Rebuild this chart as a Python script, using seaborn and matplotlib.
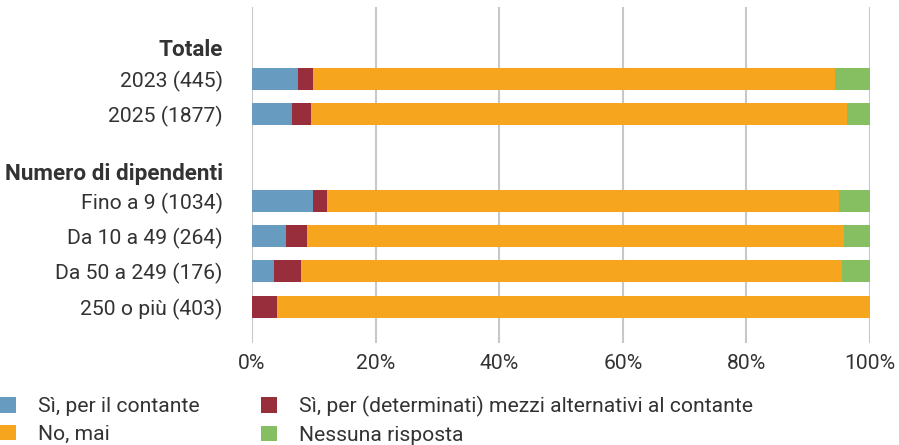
import numpy as np
import pandas as pd
import matplotlib
matplotlib.use("Agg")
import matplotlib.pyplot as plt
from matplotlib.patches import Patch
import seaborn as sns

# dati (percentuali)
categorie = ["2023 (445)", "2025 (1877)", "Fino a 9 (1034)", "Da 10 a 49 (264)",
             "Da 50 a 249 (176)", "250 o più (403)"]
gruppi = ["Totale", "Numero di dipendenti"]
si_contante = [7.4, 6.5, 9.9, 5.5, 3.6, 0.0]
si_alternativi = [2.5, 3.0, 2.2, 3.4, 4.3, 4.0]
no_mai = [84.4, 86.8, 82.9, 86.9, 87.6, 96.0]
nessuna = [5.7, 3.7, 5.0, 4.2, 4.5, 0.0]
serie = ["Sì, per il contante", "Sì, per (determinati) mezzi alternativi al contante",
         "No, mai", "Nessuna risposta"]
x_ticks = [0, 20, 40, 60, 80, 100]

# layout delle righe
pos_righe = [0, 1, 3.45, 4.45, 5.45, 6.45]
pos_gruppi = [-0.88, 2.63]

colori = {
    "Sì, per il contante": "#689BC0",
    "Sì, per (determinati) mezzi alternativi al contante": "#982D3C",
    "No, mai": "#F6A51E",
    "Nessuna risposta": "#85BF62",
}

sns.set_style("white")
plt.rcParams["font.family"] = ["Roboto", "DejaVu Sans"]
testo = "#333333"
fs = 15.2

df = pd.DataFrame({"pos": pos_righe, "cat": categorie,
                   serie[0]: si_contante, serie[1]: si_alternativi,
                   serie[2]: no_mai, serie[3]: nessuna})
cum = df[serie].cumsum(axis=1)

fig = plt.figure(figsize=(8.99, 4.45), dpi=100)
ax = fig.add_axes([252 / 899, 1 - 343 / 445, 618 / 899, 336 / 445])

# barre impilate: si disegna dalla somma cumulativa piu lunga alla piu corta
for s in serie[::-1]:
    d = pd.DataFrame({"pos": df["pos"], "val": cum[s]})
    sns.barplot(data=d, x="val", y="pos", orient="y", native_scale=True,
                color=colori[s], width=0.63, linewidth=0, errorbar=None,
                saturation=1, ax=ax)

ax.set_xlim(0, 100)
ax.set_ylim(7.48, -2.04)
ax.set_xticks(x_ticks)
ax.set_xticklabels([f"{t}%" for t in x_ticks])
ax.set_yticks(pos_gruppi[:1] + pos_righe[:2] + pos_gruppi[1:] + pos_righe[2:])
etichette = [gruppi[0]] + categorie[:2] + [gruppi[1]] + categorie[2:]
ax.set_yticklabels(etichette)
ax.set_xlabel("")
ax.set_ylabel("")
ax.tick_params(axis="x", length=0, pad=8, labelsize=fs, colors=testo)
ax.tick_params(axis="y", length=0, pad=21, labelsize=fs, colors=testo)
for lab in ax.get_yticklabels():
    if lab.get_text() in gruppi:
        lab.set_fontweight("bold")
        lab.set_fontsize(16.2)
ax.grid(axis="x", color="#c8c8c8", linewidth=1.5)
ax.grid(axis="y", visible=False)
ax.set_axisbelow(True)
sns.despine(ax=ax, left=True, bottom=True)

ordine = [serie[0], serie[2], serie[1], serie[3]]
maniglie = [Patch(facecolor=colori[s], edgecolor="none") for s in ordine]
fig.legend(maniglie, ordine, loc="upper left", bbox_to_anchor=(0.0, 1 - 396 / 445),
           ncol=2, frameon=False, fontsize=fs, labelcolor=testo,
           borderpad=0, borderaxespad=0, handlelength=0.75, handleheight=0.75,
           handletextpad=1.05, columnspacing=2.9, labelspacing=0.4)

fig.savefig("out.png", dpi=100)
